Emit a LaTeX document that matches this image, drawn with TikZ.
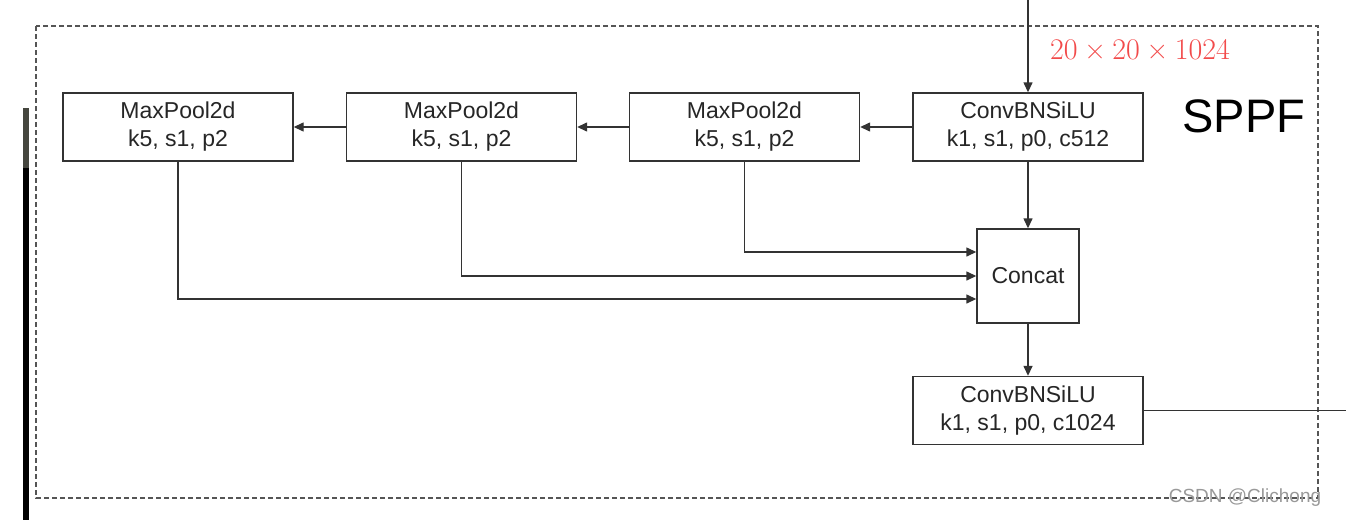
\documentclass[tikz,border=0pt]{standalone}
\usepackage{fontspec}
\setmainfont{Liberation Sans}
\newfontfamily\lmrfont{Latin Modern Roman}
\usetikzlibrary{arrows.meta}
\definecolor{linec}{HTML}{333333}
\definecolor{redtxt}{HTML}{F24A4A}
\definecolor{dashc}{HTML}{555555}
\definecolor{barg}{HTML}{45463E}
\begin{document}
\begin{tikzpicture}[x=1pt,y=-1pt,
  blk/.style={draw=linec, line width=1.4pt, fill=white, inner sep=0pt, align=center,
    font=\fontsize{23}{28}\selectfont, text=black!85},
  wide/.style={blk, minimum width=230pt, minimum height=68pt},
  conn/.style={draw=linec, line width=1.4pt, -{Triangle[length=10pt,width=9pt]}},
  plain/.style={draw=linec, line width=1.4pt}]
\useasboundingbox (0,0) rectangle (1357,520);
% screen artifact bar at left
\fill[barg] (23,108) rectangle (29,168);
\fill[black] (23,168) rectangle (29,520);
% dashed frame
\draw[dashc, line width=1.3pt, dash pattern=on 5pt off 3pt] (36,26) rectangle (1318,498);
% nodes
\node[wide] (m1) at (178,127) {MaxPool2d\\k5, s1, p2};
\node[wide] (m2) at (461.5,127) {MaxPool2d\\k5, s1, p2};
\node[wide] (m3) at (744.5,127) {MaxPool2d\\k5, s1, p2};
\node[wide] (c1) at (1028,127) {ConvBNSiLU\\k1, s1, p0, c512};
\node[blk, minimum width=102pt, minimum height=94pt] (cat) at (1028,276) {Concat};
\node[wide] (c2) at (1028,410.5) {ConvBNSiLU\\k1, s1, p0, c1024};
\coordinate (in) at (1028,0);
\coordinate (out) at (1346,410.5);
% labels
\node[text=redtxt, font=\lmrfont\fontsize{30}{32}\selectfont] (dim) at (1140,50)
  {20\hspace{.22em}×\hspace{.22em}20\hspace{.22em}×\hspace{.22em}1024};
\node[font=\fontsize{47}{50}\selectfont] (sppf) at (1244,116) {SPPF};
\node[text=black!40, font=\fontsize{19}{20}\selectfont] (wm) at (1245,498) {CSDN @Clichong};
% connectors
\draw[conn] (in) -- (c1.north);
\draw[conn] (c1.west) -- (m3.east);
\draw[conn] (m3.west) -- (m2.east);
\draw[conn] (m2.west) -- (m1.east);
\draw[conn] (c1.south) -- (cat.north);
\draw[conn] (m3.south) |- ([yshift=24pt]cat.west);
\draw[conn] (m2.south) |- (cat.west);
\draw[conn] (m1.south) |- ([yshift=-23pt]cat.west);
\draw[conn] (cat.south) -- (c2.north);
\draw[plain] (c2.east) -- (out);
\end{tikzpicture}
\end{document}
